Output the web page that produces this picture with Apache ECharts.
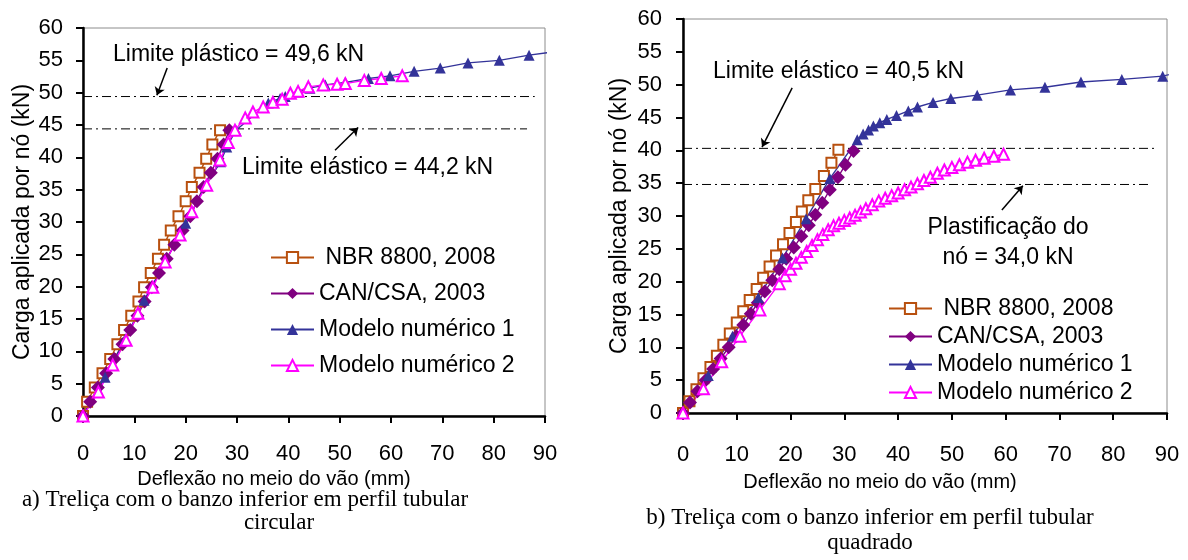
<!DOCTYPE html>
<html>
<head>
<meta charset="utf-8">
<script src="https://cdn.jsdelivr.net/npm/echarts@6/dist/echarts.min.js"></script>
<style>
  html, body { margin: 0; background: #fff; }
  #chart { width: 1188px; height: 560px; }
</style>
</head>
<body>
<div id="chart"></div>
<script>
// a) banzo inferior circular
const nbrA_def  = [0, 0.8, 2.3, 3.8, 5.3, 6.7, 8.0, 9.4, 10.8, 11.9, 13.2, 14.6, 15.8, 17.1, 18.6, 20.0, 21.2, 22.7, 24.0, 25.2, 26.7]
const nbrA_load = [0, 2.2, 4.4, 6.6, 8.8, 11.1, 13.3, 15.5, 17.7, 19.9, 22.1, 24.3, 26.5, 28.7, 30.9, 33.2, 35.4, 37.6, 39.8, 42.0, 44.2]
const canA_def  = [0, 1.4, 2.9, 4.5, 6.1, 7.7, 9.2, 10.6, 12.0, 13.4, 14.8, 16.3, 17.8, 19.4, 20.9, 22.2, 23.5, 24.9, 26.2, 27.4, 28.5]
const canA_load = [0, 2.2, 4.4, 6.6, 8.8, 11.1, 13.3, 15.5, 17.7, 19.9, 22.1, 24.3, 26.5, 28.7, 30.9, 33.2, 35.4, 37.6, 39.8, 42.0, 44.2]
const m1A_def   = [0, 4.3, 8.2, 11.9, 16.0, 20.0, 24.0, 26.8, 28.0, 29.8, 36.1, 37.0, 38.4, 39.4, 41.9, 44.2, 47.2, 51.1, 55.6, 59.8, 64.5, 69.6, 75.0, 81.1, 86.9, 91.5]
const m1A_load  = [0, 6.0, 11.9, 17.9, 23.8, 29.8, 35.8, 39.3, 41.6, 44.2, 48.4, 48.7, 49.1, 49.4, 50.1, 50.7, 51.2, 51.6, 52.2, 52.6, 53.3, 53.8, 54.6, 55.0, 55.8, 56.3]
const m2A_def   = [0, 3.0, 5.8, 8.4, 10.7, 13.6, 16.0, 18.9, 21.2, 24.1, 26.7, 28.3, 29.6, 31.6, 33.1, 35.1, 37.0, 38.8, 40.4, 41.9, 43.9, 46.8, 49.5, 51.1, 54.8, 58.1, 62.2]
const m2A_load  = [0, 3.7, 7.9, 11.7, 15.9, 19.9, 23.8, 28.0, 31.6, 35.7, 39.6, 42.3, 44.2, 46.1, 47.0, 47.8, 48.5, 49.0, 49.9, 50.2, 50.9, 51.2, 51.3, 51.4, 51.9, 52.2, 52.6]

// b) banzo inferior quadrado
const nbrB_def  = [0, 1.2, 2.5, 3.8, 5.1, 6.3, 7.5, 8.7, 10.0, 11.2, 12.4, 13.7, 14.9, 16.1, 17.3, 18.6, 19.8, 21.0, 22.1, 23.3, 24.6, 26.2, 27.6, 28.9]
const nbrB_load = [0, 1.8, 3.6, 5.3, 7.0, 8.7, 10.4, 12.1, 13.8, 15.5, 17.2, 18.9, 20.6, 22.3, 24.0, 25.7, 27.4, 29.1, 30.7, 32.4, 34.1, 36.1, 38.1, 40.1]
const canB_def  = [0, 1.3, 2.7, 4.2, 5.6, 7.0, 8.5, 9.9, 11.2, 12.6, 13.9, 15.2, 16.6, 17.9, 19.2, 20.6, 22.0, 23.4, 24.6, 25.9, 27.3, 28.8, 30.2, 31.7]
const canB_load = [0, 1.6, 3.3, 5.0, 6.7, 8.3, 10.0, 11.7, 13.4, 15.1, 16.8, 18.5, 20.2, 21.9, 23.5, 25.2, 26.9, 28.6, 30.2, 32.0, 34.0, 35.9, 37.8, 39.9]
const m1B_def   = [0, 4.7, 9.2, 14.0, 18.5, 22.9, 27.3, 32.4, 33.5, 34.5, 35.4, 36.6, 37.9, 39.7, 41.9, 43.6, 46.5, 49.8, 54.7, 60.9, 67.3, 74.0, 81.6, 89.2, 91.8]
const m1B_load  = [0, 5.7, 11.7, 17.6, 23.6, 29.6, 35.7, 41.6, 42.5, 43.1, 43.7, 44.2, 44.7, 45.3, 46.0, 46.6, 47.3, 47.9, 48.4, 49.2, 49.6, 50.4, 50.8, 51.3, 51.8]
const m2B_def   = [0, 3.8, 7.2, 10.6, 14.3, 17.9, 19.0, 20.0, 21.0, 22.0, 23.0, 24.0, 25.0, 26.0, 27.0, 28.0, 29.0, 30.0, 31.0, 32.0, 33.0, 34.0, 35.2, 36.4, 37.6, 38.8, 40.0, 41.2, 42.4, 43.6, 44.8, 46.0, 47.3, 48.6, 50.0, 51.4, 52.9, 54.4, 56.0, 57.8, 59.6]
const m2B_load  = [0, 3.7, 7.8, 11.7, 15.7, 19.7, 20.9, 21.9, 22.8, 23.7, 24.6, 25.5, 26.4, 27.2, 27.9, 28.5, 28.9, 29.3, 29.7, 30.1, 30.6, 31.1, 31.7, 32.3, 32.7, 33.1, 33.5, 34.0, 34.4, 34.9, 35.4, 35.9, 36.5, 37.0, 37.4, 37.8, 38.2, 38.5, 38.8, 39.1, 39.4]

// limites (linhas traço-ponto): [nível, fim em x]
const limitsA = [[49.4, 88.0], [44.4, 86.5]]
const limitsB = [[40.3, 87.8], [34.8, 86.9]]

const names = ['NBR 8800, 2008', 'CAN/CSA, 2003', 'Modelo numérico 1', 'Modelo numérico 2']
const SANS = 'Liberation Sans'
const SERIF = 'Liberation Serif'

function pts(xs, ys, lastHidden) {
  return xs.map((x, i) => {
    if (lastHidden && i === xs.length - 1) return { value: [x, ys[i]], symbol: 'none' }
    return [x, ys[i]]
  })
}

function curves(g, nbr, can, m1, m2) {
  const base = { type: 'line', xAxisIndex: g, yAxisIndex: g, clip: false, animation: false, z: 3 }
  return [
    { ...base, name: names[0], data: pts(nbr[0], nbr[1]), symbol: 'emptyRect', symbolSize: 10,
      itemStyle: { color: '#B8500F', borderWidth: 1.5 }, lineStyle: { color: '#B8500F', width: 1.4 } },
    { ...base, name: names[1], data: pts(can[0], can[1]), symbol: 'diamond', symbolSize: 14,
      itemStyle: { color: '#800080' }, lineStyle: { color: '#800080', width: 1.4 } },
    { ...base, name: names[2], data: pts(m1[0], m1[1], true), symbol: 'triangle', symbolSize: 11,
      itemStyle: { color: '#333399' }, lineStyle: { color: '#333399', width: 1.4 } },
    { ...base, name: names[3], data: pts(m2[0], m2[1]), symbol: 'emptyTriangle', symbolSize: 11,
      itemStyle: { color: '#FF00FF', borderWidth: 1.5 }, lineStyle: { color: '#FF00FF', width: 1.4 } }
  ]
}

function limitSeries(g, limits, arrows) {
  return limits.map((l, i) => ({
    type: 'line', xAxisIndex: g, yAxisIndex: g, symbol: 'none', animation: false, z: 2,
    data: [[0, l[0]], [l[1], l[0]]],
    lineStyle: { color: '#000', width: 1, type: [9, 4, 2, 4] },
    markLine: {
      silent: true, animation: false,
      lineStyle: { color: '#000', width: 1.5, type: 'solid' },
      label: { show: false },
      symbol: ['none', 'arrow'], symbolSize: 8,
      data: [[{ coord: arrows[i][0] }, { coord: arrows[i][1] }]]
    }
  }))
}

function xAxis(g, padRight, margin, gap) {
  return {
    type: 'value', gridIndex: g, min: 0, max: 90, interval: 10,
    name: 'Deflexão no meio do vão (mm)', nameLocation: 'middle', nameGap: gap,
    nameTextStyle: { fontFamily: SANS, fontSize: 20, color: '#000', padding: [0, padRight, 0, 0] },
    axisLine: { onZero: false, lineStyle: { color: '#000', width: 2.5 } },
    axisTick: { show: true, length: 7, lineStyle: { color: '#000', width: 2 } },
    axisLabel: { margin: margin, fontFamily: SANS, fontSize: 22, color: '#000' },
    splitLine: { show: false }
  }
}

function yAxis(g, margin, gap) {
  return {
    type: 'value', gridIndex: g, min: 0, max: 60, interval: 5,
    name: 'Carga aplicada por nó (kN)', nameLocation: 'middle', nameGap: gap,
    nameTextStyle: { fontFamily: SANS, fontSize: 23, color: '#000' },
    axisLine: { show: true, onZero: false, lineStyle: { color: '#000', width: 2.5 } },
    axisTick: { show: true, length: 7, lineStyle: { color: '#000', width: 2 } },
    axisLabel: { margin: margin, fontFamily: SANS, fontSize: 22, color: '#000' },
    splitLine: { show: false }
  }
}

function legend(left, top, gap) {
  return {
    orient: 'vertical', left, top, itemGap: gap, itemWidth: 43, itemHeight: 14,
    data: names,
    formatter: n => (n === names[0] ? ' ' + n : n),
    textStyle: { fontFamily: SANS, fontSize: 23, color: '#000' },
    selectedMode: false
  }
}

function text(x, y, str, align, font, size) {
  return { type: 'text', x, y, style: { text: str, fill: '#000', font: size + 'px "' + font + '"', textAlign: align, textVerticalAlign: 'middle' } }
}

const chart = echarts.init(document.getElementById('chart'))
chart.setOption({
  backgroundColor: '#fff',
  animation: false,
  grid: [
    { left: 83, top: 28, width: 462, height: 388, show: true, borderColor: '#8c8c8c', borderWidth: 1 },
    { left: 683, top: 19, width: 484, height: 394, show: true, borderColor: '#8c8c8c', borderWidth: 1 }
  ],
  xAxis: [xAxis(0, 80, 27, 52), xAxis(1, 90, 31, 59)],
  yAxis: [yAxis(0, 20, 49), yAxis(1, 21, 52)],
  legend: [legend(265, 241, 13), legend(883, 292, 5)],
  series: [
    ...limitSeries(0, limitsA, [[[16.4, 53.8], [14.4, 49.6]], [[49.1, 41.1], [53.6, 44.6]]]),
    ...curves(0, [nbrA_def, nbrA_load], [canA_def, canA_load], [m1A_def, m1A_load], [m2A_def, m2A_load]),
    ...limitSeries(1, limitsB, [[[20.3, 49.5], [14.7, 40.5]], [[59.3, 30.9], [63.2, 34.6]]]),
    ...curves(1, [nbrB_def, nbrB_load], [canB_def, canB_load], [m1B_def, m1B_load], [m2B_def, m2B_load])
  ],
  graphic: [
    text(113, 55, 'Limite plástico = 49,6 kN', 'left', SANS, 23),
    text(242, 168, 'Limite elástico = 44,2 kN', 'left', SANS, 23),
    text(713, 72, 'Limite elástico = 40,5 kN', 'left', SANS, 23),
    text(1008, 228, 'Plastificação do', 'center', SANS, 23),
    text(1008, 258, 'nó = 34,0 kN', 'center', SANS, 23),
    text(245, 500, 'a) Treliça com o banzo inferior em perfil tubular', 'center', SERIF, 23),
    text(279, 523, 'circular', 'center', SERIF, 23),
    text(870, 518, 'b) Treliça com o banzo inferior em perfil tubular', 'center', SERIF, 23),
    text(870, 543, 'quadrado', 'center', SERIF, 23)
  ]
})
</script>
</body>
</html>
